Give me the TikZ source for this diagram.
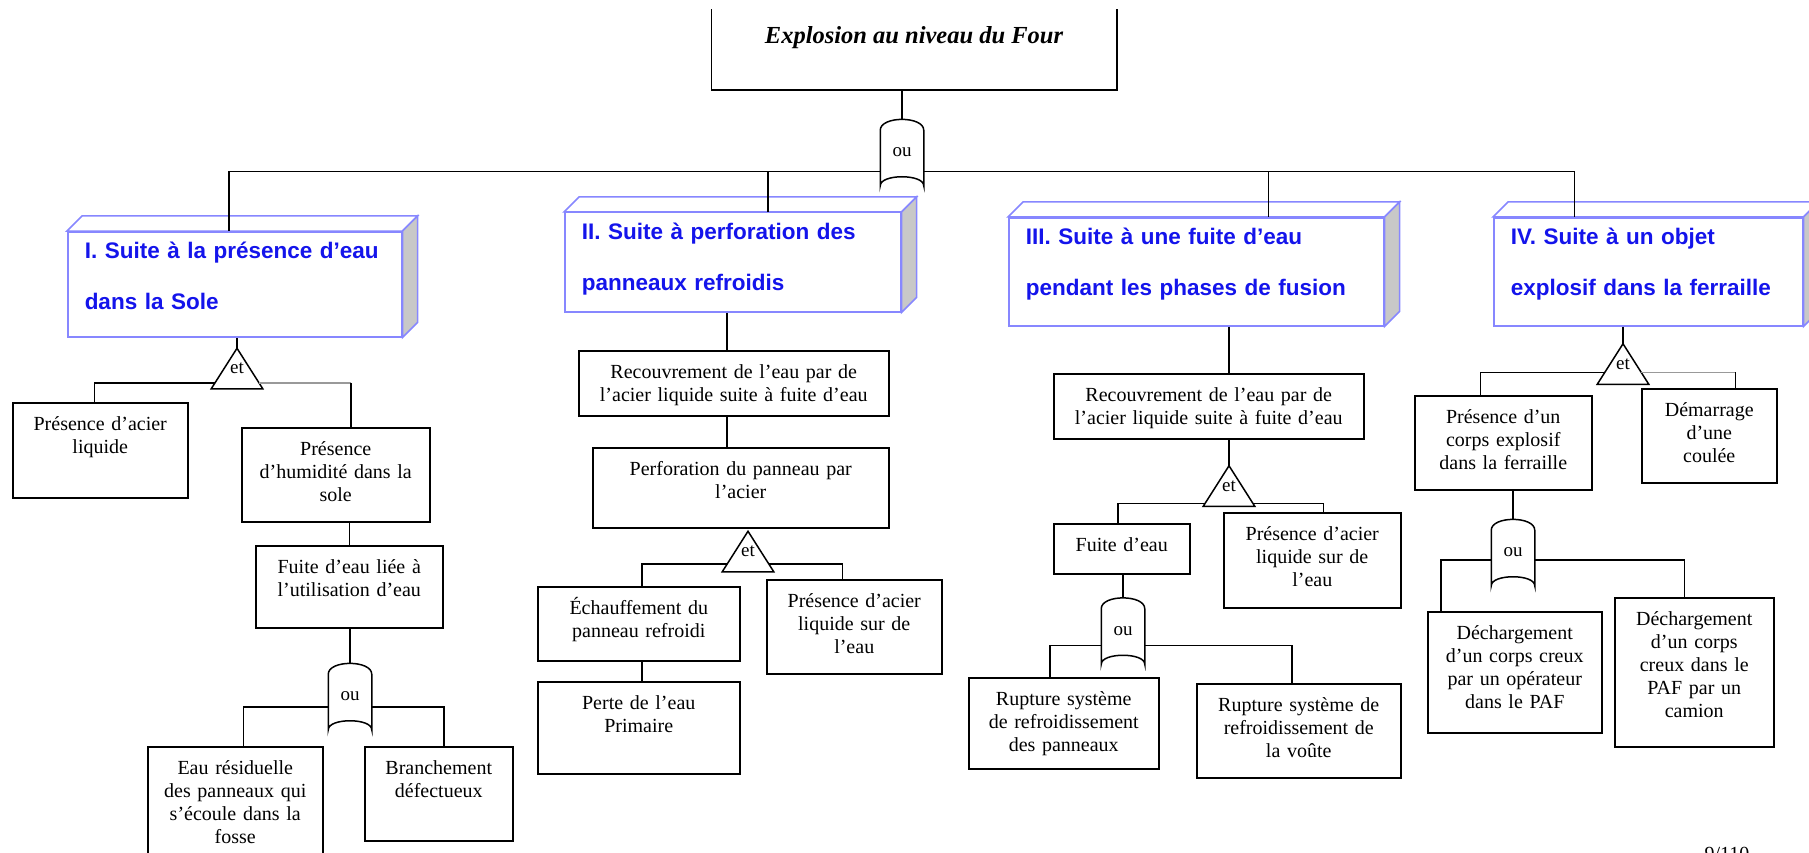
\documentclass[tikz,border=0pt]{standalone}
\usepackage{fontspec}
\setmainfont{Liberation Serif}
\setsansfont{Liberation Sans}

\definecolor{causeblue}{RGB}{20,20,235}
\definecolor{rimblue}{RGB}{135,135,255}
\definecolor{sidegray}{RGB}{200,200,200}

\tikzset{
  ev/.style 2 args={draw, anchor=north west, inner sep=0pt, text width=#1pt,
    text height=28pt, text depth=#2pt-28pt, align=center,
    font=\fontsize{20}{23}\selectfont},
  cause/.style 2 args={draw=rimblue, fill=white, anchor=north west,
    inner xsep=17pt, inner ysep=0pt, text width=#1pt-34pt, text height=27pt,
    text depth=#2pt-27pt, align=left, text=causeblue,
    font=\sffamily\bfseries\fontsize{22.5}{51}\selectfont},
  andgate/.style={minimum width=50pt, minimum height=39pt, inner sep=0pt,
    font=\fontsize{19}{19}\selectfont},
  orgate/.style={minimum width=42pt, minimum height=65pt, inner sep=0pt,
    font=\fontsize{19}{19}\selectfont},
  faint/.style={draw=black!40}
}

% 3D rim of the four cause boxes
\newcommand\slab[1]{%
  \draw[rimblue, fill=white] (#1.north west) -- ++(15pt,15pt)
    -- ([shift={(15pt,15pt)}]#1.north east) -- (#1.north east) -- cycle;
  \draw[rimblue, fill=sidegray] (#1.north east) -- ++(15pt,15pt)
    -- ([shift={(15pt,15pt)}]#1.south east) -- (#1.south east) -- cycle;}
% gate outlines
\newcommand\etshape[1]{\draw (#1.north) -- (#1.south east) -- (#1.south west) -- cycle;}
\newcommand\oushape[1]{\draw (#1.south west) -- ([yshift=-11pt]#1.north west)
    .. controls ([yshift=3.5pt]#1.north west) and ([yshift=3.5pt]#1.north east)
    .. ([yshift=-11pt]#1.north east) -- (#1.south east)
    .. controls ([yshift=12pt]#1.south east) and ([yshift=12pt]#1.south west)
    .. (#1.south west) -- cycle;}

\begin{document}
\begin{tikzpicture}[x=1pt, y=-1pt, line width=1.5pt]
  \useasboundingbox (0,0) rectangle (1809,853);

  % top event (its upper edge is cut off)
  \node[minimum width=404pt, minimum height=104pt, anchor=south,
        font=\bfseries\itshape\fontsize{24.5}{28}\selectfont] (top) at (914,90)
        {Explosion au niveau du Four};
  \draw ([yshift=-25pt]top.north west) |- (top.south east) -- ([yshift=-25pt]top.north east);
  \node[orgate] (g0) at (902,152.5) {ou};
  \oushape{g0}

  % the four causes
  \node[cause={334}{105}] (hI) at (67,231) {I. Suite à la présence d’eau\\dans la Sole};
  \node[cause={336}{99}] (hII) at (564,212) {II. Suite à perforation des\\panneaux refroidis};
  \node[cause={375}{108}] (hIII) at (1008,217) {III. Suite à une fuite d’eau\\pendant les phases de fusion};
  \node[cause={309}{108}] (hIV) at (1493,217) {IV. Suite à un objet\\explosif dans la ferraille};
  \slab{hI} \slab{hII} \slab{hIII} \slab{hIV}

  % branch I
  \node[andgate] (gI) at (237,368.5) {et};
  \etshape{gI}
  \node[ev={175}{95}] (aI1) at (12,402) {Présence d’acier\\liquide};
  \node[ev={188}{94}] (aI2) at (241,427) {Présence\\d’humidité dans la\\sole};
  \node[ev={187}{82}] (aI3) at (255,545) {Fuite d’eau liée à\\l’utilisation d’eau};
  \node[orgate] (gI1) at (350,696.5) {ou};
  \oushape{gI1}
  \node[ev={175}{134}] (aI4) at (147,746) {Eau résiduelle\\des panneaux qui\\s’écoule dans la\\fosse};
  \node[ev={148}{94}] (aI5) at (364,746) {Branchement\\défectueux};

  % branch II
  \node[ev={310}{65}] (bII1) at (578,350) {Recouvrement de l’eau par de\\l’acier liquide suite à fuite d’eau};
  \node[ev={296}{80}] (bII2) at (592,447) {Perforation du panneau par\\l’acier};
  \node[andgate] (gII) at (748,551.5) {et};
  \etshape{gII}
  \node[ev={202}{74}] (bII3) at (537,586) {Échauffement du\\panneau refroidi};
  \node[ev={175}{94}] (bII4) at (766,579) {Présence d’acier\\liquide sur de\\l’eau};
  \node[ev={202}{92}] (bII5) at (537,681) {Perte de l’eau\\Primaire};

  % branch III
  \node[ev={310}{65}] (cIII1) at (1053,373) {Recouvrement de l’eau par de\\l’acier liquide suite à fuite d’eau};
  \node[andgate] (gIII) at (1229,486) {et};
  \etshape{gIII}
  \node[ev={136}{50}] (cIII2) at (1053,523) {Fuite d’eau};
  \node[ev={177}{95}] (cIII3) at (1223,512) {Présence d’acier\\liquide sur de\\l’eau};
  \node[orgate] (gIII1) at (1123,631) {ou};
  \oushape{gIII1}
  \node[ev={190}{91}] (cIII4) at (968,677) {Rupture système\\de refroidissement\\des panneaux};
  \node[ev={204}{94}] (cIII5) at (1196,683) {Rupture système de\\refroidissement de\\la voûte};

  % branch IV
  \node[andgate] (gIV) at (1623,364) {et};
  \etshape{gIV}
  \node[ev={177}{94}] (dIV1) at (1414,395) {Présence d’un\\corps explosif\\dans la ferraille};
  \node[ev={135}{94}] (dIV2) at (1641,388) {Démarrage\\d’une\\coulée};
  \node[orgate] (gIV1) at (1513,552.5) {ou};
  \oushape{gIV1}
  \node[ev={174}{121}] (dIV3) at (1427,611) {Déchargement\\d’un corps creux\\par un opérateur\\dans le PAF};
  \node[ev={159}{149}] (dIV4) at (1614,597) {Déchargement\\d’un corps\\creux dans le\\PAF par un\\camion};

  \node[font=\fontsize{20}{23}\selectfont, anchor=base] (pg) at (1727,860) {9/110};

  % connectors
  \draw (top.south -| g0.north) -- (g0.north);
  \draw ([yshift=14pt]g0.south west) -| ([xshift=-6pt]hI.north);
  \draw ([xshift=35pt]hII.north) |- ([yshift=14pt]g0.south west);
  \draw ([yshift=14pt]g0.south east) -| ([xshift=-74pt]hIV.north);
  \draw ([xshift=72pt]hIII.north) |- ([yshift=14pt]g0.south east);

  \draw (gI.north) -- (gI.north |- hI.south);
  \draw ([shift={(4pt,6pt)}]gI.south west) -| ([xshift=-6pt]aI1.north);
  \coordinate (kI) at ([shift={(15pt,6pt)}]aI2.north |- gI.south);
  \draw[faint] ([shift={(-4pt,6pt)}]gI.south east) -- (kI);
  \draw (kI) -- ([xshift=15pt]aI2.north);
  \draw (aI3.north) -- (aI3.north |- aI2.south);
  \draw (gI1.north |- aI3.south) -- (gI1.north);
  \draw ([yshift=23pt]gI1.south west) -| ([xshift=8pt]aI4.north);
  \draw ([yshift=23pt]gI1.south east) -| ([xshift=5pt]aI5.north);

  \draw ([xshift=-7pt]bII1.north) -- ([xshift=-7pt]bII1.north |- hII.south);
  \draw ([xshift=-7pt]bII1.south) -- ([xshift=-7pt]bII1.south |- bII2.north);
  \draw ([shift={(5pt,8pt)}]gII.south west) -| ([xshift=3pt]bII3.north);
  \draw ([shift={(-5pt,8pt)}]gII.south east) -| ([xshift=-12pt]bII4.north);
  \draw ([xshift=3pt]bII3.south) -- ([xshift=3pt]bII5.north);

  \draw (gIII.north |- hIII.south) -- (gIII.north |- cIII1.north);
  \draw (gIII.north |- cIII1.south) -- (gIII.north);
  \draw ([shift={(2pt,3pt)}]gIII.south west) -| ([xshift=-4pt]cIII2.north);
  \draw ([shift={(-2pt,3pt)}]gIII.south east) -| ([xshift=11pt]cIII3.north);
  \draw (gIII1.north |- cIII2.south) -- (gIII1.north);
  \draw ([yshift=19pt]gIII1.south west) -| ([xshift=-14pt]cIII4.north);
  \draw ([yshift=19pt]gIII1.south east) -| ([xshift=-7pt]cIII5.north);

  \draw (gIV.north |- hIV.south) -- (gIV.north);
  \draw ([shift={(8pt,12pt)}]gIV.south west) -| ([xshift=-23pt]dIV1.north);
  \coordinate (kIV) at ([shift={(26pt,12pt)}]dIV2.north |- gIV.south);
  \draw[faint] ([shift={(-8pt,12pt)}]gIV.south east) -- (kIV);
  \draw (kIV) -- ([xshift=26pt]dIV2.north);
  \draw (gIV1.north |- dIV1.south) -- (gIV1.north);
  \draw ([yshift=26pt]gIV1.south west) -| ([xshift=-74pt]dIV3.north);
  \draw ([yshift=26pt]gIV1.south east) -| ([xshift=-10pt]dIV4.north);
\end{tikzpicture}
\end{document}
